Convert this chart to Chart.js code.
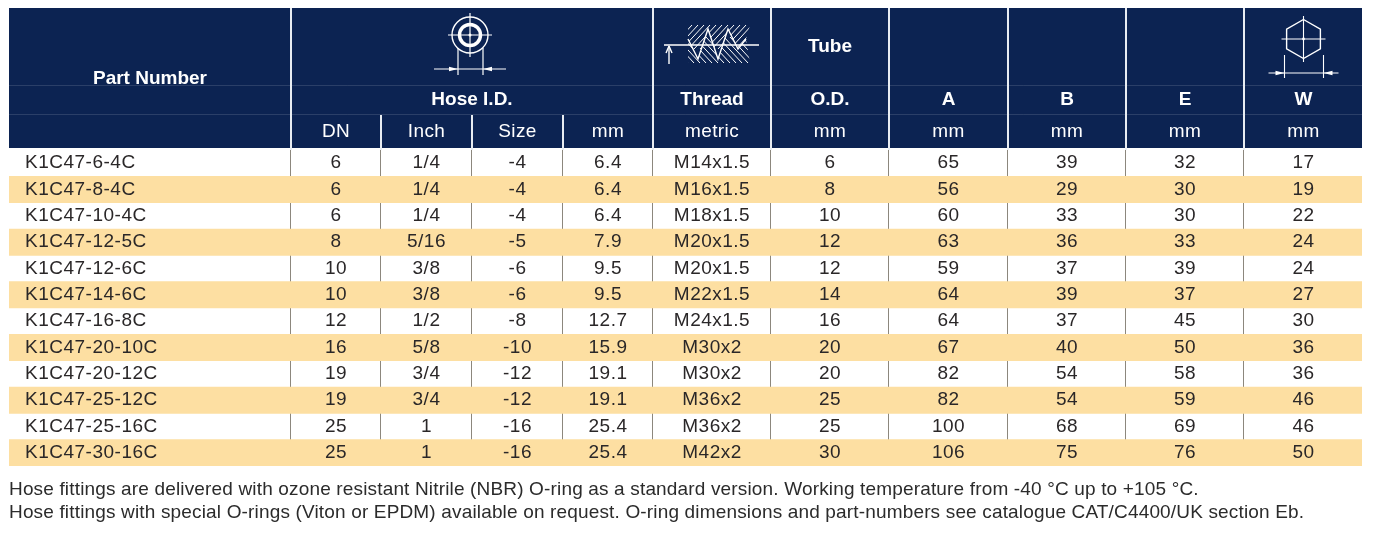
<!DOCTYPE html>
<html>
<head>
<meta charset="utf-8">
<script src="https://cdn.jsdelivr.net/npm/chart.js@4/dist/chart.umd.min.js"></script>
<style>
    html, body { margin: 0; padding: 0; background: #ffffff; }
    #tableBox { width: 1375px; height: 539px; position: relative; }
</style>
</head>
<body>
<div id="tableBox"><canvas id="fittingTable"></canvas></div>
<script>
const partNumbers = ["K1C47-6-4C", "K1C47-8-4C", "K1C47-10-4C", "K1C47-12-5C", "K1C47-12-6C", "K1C47-14-6C",
    "K1C47-16-8C", "K1C47-20-10C", "K1C47-20-12C", "K1C47-25-12C", "K1C47-25-16C", "K1C47-30-16C"];
const dnValues = ["6", "6", "6", "8", "10", "10", "12", "16", "19", "19", "25", "25"];
const inchValues = ["1/4", "1/4", "1/4", "5/16", "3/8", "3/8", "1/2", "5/8", "3/4", "3/4", "1", "1"];
const sizeValues = ["-4", "-4", "-4", "-5", "-6", "-6", "-8", "-10", "-12", "-12", "-16", "-16"];
const hoseMmValues = ["6.4", "6.4", "6.4", "7.9", "9.5", "9.5", "12.7", "15.9", "19.1", "19.1", "25.4", "25.4"];
const threadValues = ["M14x1.5", "M16x1.5", "M18x1.5", "M20x1.5", "M20x1.5", "M22x1.5", "M24x1.5", "M30x2", "M30x2", "M36x2", "M36x2", "M42x2"];
const tubeValues = ["6", "8", "10", "12", "12", "14", "16", "20", "20", "25", "25", "30"];
const aValues = ["65", "56", "60", "63", "59", "64", "64", "67", "82", "82", "100", "106"];
const bValues = ["39", "29", "33", "36", "37", "39", "37", "40", "54", "54", "68", "75"];
const eValues = ["32", "30", "30", "33", "39", "37", "45", "50", "58", "59", "69", "76"];
const wValues = ["17", "19", "22", "24", "24", "27", "30", "36", "36", "46", "46", "50"];

const headerTitles = ["Part Number", "", "Hose I.D.", "", "", "Thread", "O.D.", "A", "B", "E", "W"];
const headerUnits = ["", "DN", "Inch", "Size", "mm", "metric", "mm", "mm", "mm", "mm", "mm"];
const footNotes = [
    "Hose fittings are delivered with ozone resistant Nitrile (NBR) O-ring as a standard version. Working temperature from -40 °C up to +105 °C.",
    "Hose fittings with special O-rings (Viton or EPDM) available on request. O-ring dimensions and part-numbers see catalogue CAT/C4400/UK section Eb."
];

// layout of the columns, in table units
const columnWidths = [282, 90, 91, 91, 90, 118, 118, 119, 118, 118, 119];
const headerHeight = 140;
const headerGap = 2;

const navy = "#0c2352";
const stripeColour = "#fddfa2";
const textColour = "#2a2728";
const fontName = "'Liberation Sans', Arial, sans-serif";

let columnEdges = [0];
for (let w of columnWidths) columnEdges.push(columnEdges[columnEdges.length - 1] + w);
const totalWidth = columnEdges[columnEdges.length - 1];

const columns = [partNumbers, dnValues, inchValues, sizeValues, hoseMmValues, threadValues,
    tubeValues, aValues, bValues, eValues, wValues];

let stripeData = partNumbers.map((p, i) => i % 2 == 1 ? [0, totalWidth] : null);

function arrowHead(ctx, x, y, dir) {
    ctx.beginPath();
    ctx.moveTo(x, y);
    ctx.lineTo(x - dir * 9, y - 2.2);
    ctx.lineTo(x - dir * 9, y + 2.2);
    ctx.closePath();
    ctx.fill();
}

function line(ctx, x1, y1, x2, y2) {
    ctx.beginPath();
    ctx.moveTo(x1, y1);
    ctx.lineTo(x2, y2);
    ctx.stroke();
}

function drawHoseIcon(ctx, cx, cy) {
    ctx.lineWidth = 1.4;
    ctx.beginPath();
    ctx.arc(cx, cy, 18, 0, Math.PI * 2);
    ctx.stroke();
    ctx.lineWidth = 3.5;
    ctx.beginPath();
    ctx.arc(cx, cy, 10.5, 0, Math.PI * 2);
    ctx.stroke();
    ctx.lineWidth = 1.2;
    line(ctx, cx - 22, cy, cx + 22, cy);
    line(ctx, cx, cy - 22, cx, cy + 22);
    ctx.beginPath();
    ctx.arc(cx, cy, 1.5, 0, Math.PI * 2);
    ctx.fill();
    line(ctx, cx - 12, cy + 13, cx - 12, cy + 40);
    line(ctx, cx + 13, cy + 13, cx + 13, cy + 40);
    line(ctx, cx - 36, cy + 34, cx + 36, cy + 34);
    arrowHead(ctx, cx - 12, cy + 34, 1);
    arrowHead(ctx, cx + 13, cy + 34, -1);
}

function drawHexIcon(ctx, cx, cy) {
    ctx.lineWidth = 1.4;
    ctx.beginPath();
    for (let k = 0; k < 6; k++) {
        let a = -Math.PI / 2 + k * Math.PI / 3;
        let px = cx + 19.5 * Math.cos(a);
        let py = cy + 19.5 * Math.sin(a);
        if (k == 0) ctx.moveTo(px, py); else ctx.lineTo(px, py);
    }
    ctx.closePath();
    ctx.stroke();
    ctx.lineWidth = 1.1;
    line(ctx, cx - 22, cy, cx + 22, cy);
    line(ctx, cx, cy - 23, cx, cy + 23);
    ctx.beginPath();
    ctx.arc(cx, cy, 1.4, 0, Math.PI * 2);
    ctx.fill();
    line(ctx, cx - 19, cy + 16, cx - 19, cy + 39);
    line(ctx, cx + 20, cy + 16, cx + 20, cy + 39);
    line(ctx, cx - 35, cy + 34, cx + 35, cy + 34);
    arrowHead(ctx, cx - 19, cy + 34, 1);
    arrowHead(ctx, cx + 20, cy + 34, -1);
}

function drawThreadIcon(ctx, cx, cy) {
    // zigzag profile of the thread
    let zig = [[-24, -6], [-14, 14], [-4, -16], [6, 14], [16, -16], [26, 4], [34, -6]];
    ctx.save();
    ctx.lineWidth = 1;
    // hatching above the profile
    ctx.beginPath();
    ctx.moveTo(cx - 24, cy - 20);
    for (let p of zig) ctx.lineTo(cx + p[0], cy + p[1]);
    ctx.lineTo(cx + 38, cy - 20);
    ctx.closePath();
    ctx.save();
    ctx.clip();
    for (let k = -60; k < 80; k += 6) line(ctx, cx + k, cy + 4, cx + k + 22, cy - 20);
    ctx.restore();
    // hatching below the profile
    ctx.beginPath();
    ctx.moveTo(cx - 24, cy + 18);
    for (let p of zig) ctx.lineTo(cx + p[0], cy + p[1]);
    ctx.lineTo(cx + 38, cy + 18);
    ctx.closePath();
    ctx.save();
    ctx.clip();
    for (let k = -60; k < 80; k += 6) line(ctx, cx + k, cy - 8, cx + k + 24, cy + 18);
    ctx.restore();
    ctx.lineWidth = 1.4;
    ctx.beginPath();
    for (let i = 0; i < zig.length; i++) {
        if (i == 0) ctx.moveTo(cx + zig[i][0], cy + zig[i][1]);
        else ctx.lineTo(cx + zig[i][0], cy + zig[i][1]);
    }
    ctx.stroke();
    line(ctx, cx - 48, cy, cx + 47, cy);
    line(ctx, cx - 43, cy + 1, cx - 43, cy + 19);
    ctx.beginPath();
    ctx.moveTo(cx - 43, cy + 1);
    ctx.lineTo(cx - 46, cy + 8);
    ctx.moveTo(cx - 43, cy + 1);
    ctx.lineTo(cx - 40, cy + 8);
    ctx.stroke();
    ctx.restore();
}

const tablePlugin = {
    id: "tableText",
    afterDraw(chart) {
        let ctx = chart.ctx;
        let xs = chart.scales.x;
        let ys = chart.scales.y;
        let area = chart.chartArea;
        let colX = (c) => xs.getPixelForValue(columnEdges[c]);
        let colMid = (c) => xs.getPixelForValue((columnEdges[c] + columnEdges[c + 1]) / 2);
        let top = area.top - headerHeight - headerGap;
        let bottom = area.top - headerGap;

        ctx.save();
        // header block
        ctx.fillStyle = navy;
        ctx.fillRect(area.left, top, area.right - area.left, headerHeight);
        ctx.strokeStyle = "rgba(255,255,255,0.13)";
        ctx.lineWidth = 1;
        line(ctx, area.left, top + 77.5, area.right, top + 77.5);
        line(ctx, area.left, top + 106.5, area.right, top + 106.5);

        ctx.strokeStyle = "#e8ecf2";
        ctx.lineWidth = 2;
        for (let c = 1; c < columnWidths.length; c++) {
            let from = (c >= 2 && c <= 4) ? top + 107 : top;
            line(ctx, colX(c), from, colX(c), area.top);
        }

        ctx.fillStyle = "#ffffff";
        ctx.textBaseline = "middle";
        ctx.textAlign = "center";
        ctx.font = "bold 19px " + fontName;
        for (let c = 0; c < headerTitles.length; c++) {
            if (!headerTitles[c]) continue;
            let y = c == 0 ? top + 71 : top + 92;
            let x = colMid(c);
            if (c == 2) x = (colX(1) + colX(5)) / 2;
            ctx.fillText(headerTitles[c], x, y);
        }
        ctx.fillText("Tube", colMid(6), top + 39);
        ctx.font = "19px " + fontName;
        ctx.letterSpacing = "0.4px";
        for (let c = 0; c < headerUnits.length; c++) {
            if (headerUnits[c]) ctx.fillText(headerUnits[c], colMid(c), top + 124);
        }
        ctx.letterSpacing = "0px";

        ctx.strokeStyle = "#ffffff";
        ctx.fillStyle = "#ffffff";
        drawHoseIcon(ctx, (colX(1) + colX(5)) / 2 - 2, top + 27);
        drawThreadIcon(ctx, colMid(5), top + 37);
        drawHexIcon(ctx, colMid(10), top + 31);

        // table body text
        ctx.fillStyle = textColour;
        ctx.font = "19px " + fontName;
        ctx.letterSpacing = "0.5px";
        for (let i = 0; i < partNumbers.length; i++) {
            let y = ys.getPixelForValue(i);
            for (let c = 0; c < columns.length; c++) {
                if (c == 0) {
                    ctx.textAlign = "left";
                    ctx.fillText(columns[c][i], colX(0) + 16, y);
                } else {
                    ctx.textAlign = "center";
                    ctx.fillText(columns[c][i], colMid(c), y);
                }
            }
        }

        // notes under the table
        ctx.fillStyle = "#2b2b2b";
        ctx.textAlign = "left";
        ctx.font = "19px " + fontName;
        ctx.letterSpacing = "0.16px";
        ctx.fillText(footNotes[0], area.left, area.bottom + 24);
        ctx.fillText(footNotes[1], area.left, area.bottom + 47);
        ctx.restore();
    }
};

let tableChart = new Chart(document.getElementById("fittingTable"), {
    type: "bar",
    data: {
        labels: partNumbers,
        datasets: [{
            data: stripeData,
            backgroundColor: stripeColour,
            borderWidth: 0,
            barPercentage: 1,
            categoryPercentage: 1
        }]
    },
    options: {
        indexAxis: "y",
        responsive: true,
        maintainAspectRatio: false,
        animation: false,
        events: [],
        layout: { padding: { left: 9, right: 13, top: 150, bottom: 73 } },
        plugins: {
            legend: { display: false },
            tooltip: { enabled: false }
        },
        scales: {
            x: {
                type: "linear",
                min: 0,
                max: totalWidth - 1,
                z: 1,
                grid: { color: "#8c877d", lineWidth: 1, drawTicks: false },
                border: { display: false },
                ticks: { display: false },
                afterBuildTicks: function(axis) {
                    axis.ticks = columnEdges.slice(1, -1).map(v => ({ value: v - 1 }));
                }
            },
            y: { display: false }
        }
    },
    plugins: [tablePlugin]
});
</script>
</body>
</html>
